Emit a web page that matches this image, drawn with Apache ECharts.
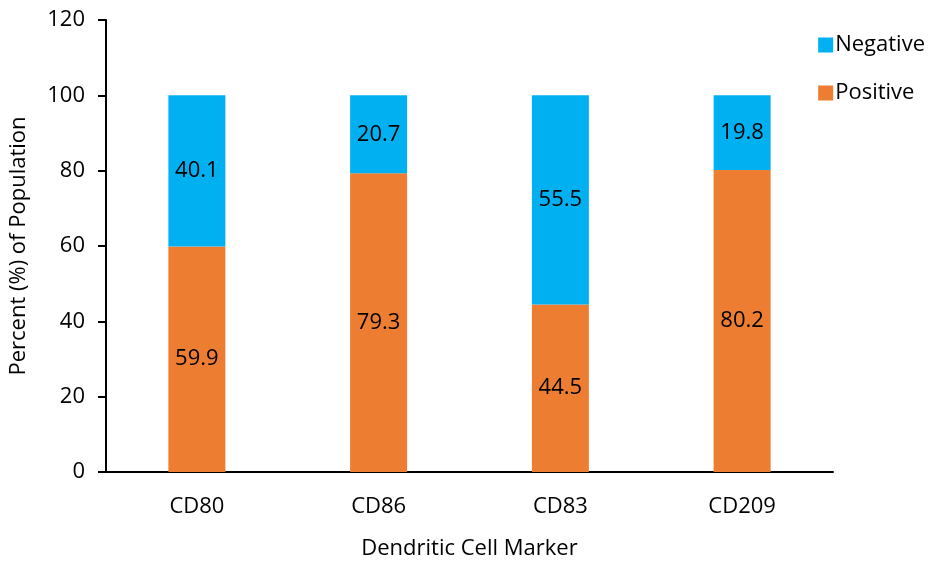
<!DOCTYPE html>
<html>
<head>
<meta charset="utf-8">
<script src="https://cdn.jsdelivr.net/npm/echarts@6/dist/echarts.min.js"></script>
<style>
  html, body { margin: 0; padding: 0; background: #fff; }
  #chart { width: 936px; height: 565px; }
</style>
</head>
<body>
<div id="chart"></div>
<script>
// Dendritic cell marker expression, percent of population
const markers = ['CD80', 'CD86', 'CD83', 'CD209'];
const positive = [59.9, 79.3, 44.5, 80.2];
const negative = [40.1, 20.7, 55.5, 19.8];
const yTicks = { min: 0, max: 120, interval: 20 };

const FONT = '"Open Sans", "Noto Sans", sans-serif';
const FS = 22;
const chart = echarts.init(document.getElementById('chart'), null, { renderer: 'canvas' });

const segLabel = {
  show: true,
  position: 'inside',
  color: '#000',
  fontFamily: FONT,
  fontSize: FS,
  formatter: p => p.value.toFixed(1)
};

chart.setOption({
  animation: false,
  textStyle: { fontFamily: FONT },
  grid: { left: 106, right: 103, top: 20, bottom: 93, containLabel: false },
  legend: {
    orient: 'vertical',
    right: 6,
    top: 29,
    itemWidth: 15,
    itemHeight: 15,
    itemGap: 26,
    icon: 'rect',
    data: ['Negative', 'Positive'],
    textStyle: { fontFamily: FONT, fontSize: FS, color: '#000', padding: [0, 0, 0, -3] }
  },
  xAxis: {
    type: 'category',
    data: markers,
    name: 'Dendritic Cell Marker',
    nameLocation: 'middle',
    nameGap: 66,
    nameTextStyle: { fontFamily: FONT, fontSize: FS, color: '#000' },
    axisLine: { lineStyle: { color: '#000', width: 2 } },
    axisTick: { show: false },
    axisLabel: { fontFamily: FONT, fontSize: FS, color: '#000', margin: 24 }
  },
  yAxis: {
    type: 'value',
    min: yTicks.min,
    max: yTicks.max,
    interval: yTicks.interval,
    name: 'Percent (%) of Population',
    nameLocation: 'middle',
    nameGap: 76,
    nameTextStyle: { fontFamily: FONT, fontSize: FS, color: '#000' },
    axisLine: { show: true, lineStyle: { color: '#000', width: 2 } },
    axisTick: { show: true, length: 8, lineStyle: { color: '#000', width: 2 } },
    axisLabel: { fontFamily: FONT, fontSize: FS, color: '#000', margin: 21 },
    splitLine: { show: false }
  },
  series: [
    {
      name: 'Positive',
      type: 'bar',
      stack: 'total',
      barWidth: 57,
      data: positive,
      itemStyle: { color: '#ED7D31' },
      label: segLabel
    },
    {
      name: 'Negative',
      type: 'bar',
      stack: 'total',
      barWidth: 57,
      data: negative,
      itemStyle: { color: '#00B0F0' },
      label: segLabel
    }
  ]
});
</script>
</body>
</html>
